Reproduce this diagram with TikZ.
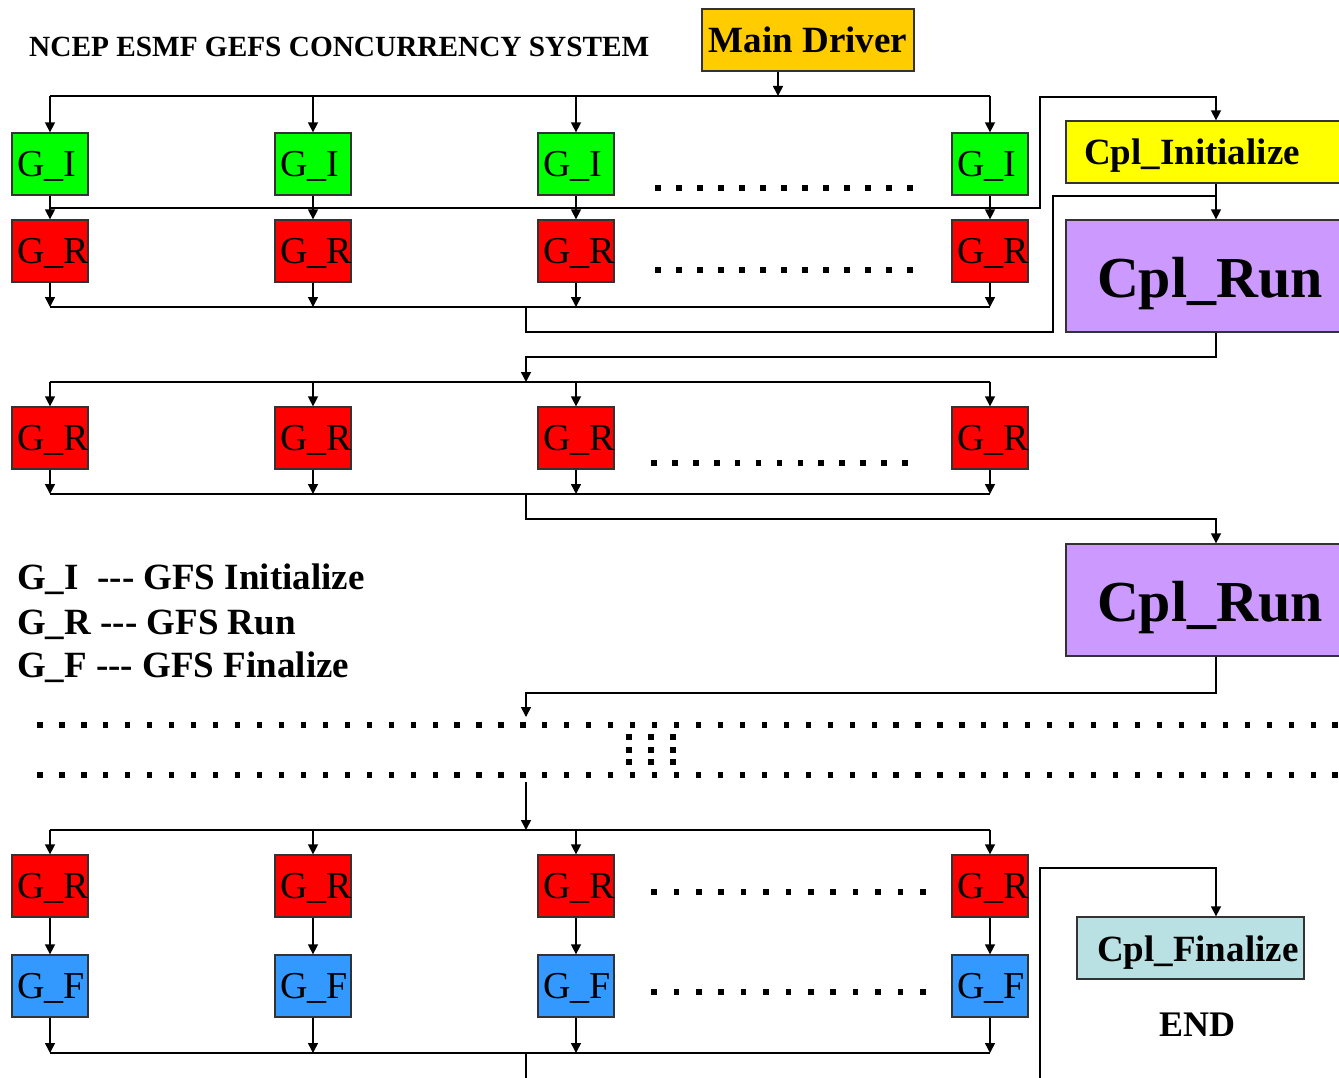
\documentclass[tikz,border=0pt]{standalone}
\usepackage{fontspec}
\newfontfamily\tnr{Liberation Serif}
\usetikzlibrary{arrows.meta}
\definecolor{mdcol}{RGB}{255,204,0}
\definecolor{gicol}{RGB}{0,255,0}
\definecolor{grcol}{RGB}{255,0,0}
\definecolor{gfcol}{RGB}{51,153,255}
\definecolor{cicol}{RGB}{255,255,0}
\definecolor{crcol}{RGB}{204,153,255}
\definecolor{cfcol}{RGB}{185,224,226}
\begin{document}
\begin{tikzpicture}[x=1pt,y=-1pt,
  ln/.style={line width=1.5pt, draw=black},
  arr/.style={ln, -{Triangle[width=10pt,length=10pt]}},
  bx/.style={draw=black!80, line width=1.3pt, inner ysep=0pt},
  gbox/.style={bx, minimum height=62pt, text width=66pt, inner xsep=5pt, align=left, text height=25pt, text depth=0pt, font=\tnr\fontsize{38}{40}\selectfont},
  gi/.style={gbox, fill=gicol},
  gr/.style={gbox, fill=grcol},
  gf/.style={gbox, fill=gfcol},
  cbox/.style={bx, align=left, text depth=0pt, font=\tnr\bfseries\fontsize{37}{40}\selectfont},
  legend/.style={anchor=base west, inner sep=0pt, font=\tnr\bfseries\fontsize{37}{40}\selectfont},
  dotsq/.style={fill=black}
]
\useasboundingbox (0,0) rectangle (1339,1078);
\fill[white] (0,0) rectangle (1339,1078);

% title and main driver
\node[anchor=base west, inner sep=0pt, font=\tnr\bfseries\fontsize{29.3}{31}\selectfont] (title) at (29,57) {NCEP ESMF GEFS CONCURRENCY SYSTEM};
\node[bx, fill=mdcol, minimum width=212pt, minimum height=62pt, inner sep=0pt, text height=26pt, text depth=0pt, font=\tnr\bfseries\fontsize{37}{40}\selectfont] (md) at (808,40) {Main Driver};

% helper coordinates
\coordinate (cx) at (1216,0);
\coordinate (mx) at (526,0);

% G boxes
\foreach \n/\x in {1/50,2/313,3/576,4/990}{
  \node[gi] (a\n) at (\x,164) {G\_I};
  \node[gr] (b\n) at (\x,251) {G\_R};
  \node[gr] (c\n) at (\x,438) {G\_R};
  \node[gr] (d\n) at (\x,886) {G\_R};
  \node[gf] (e\n) at (\x,986) {G\_F};
}

% coupler boxes
\node[cbox, fill=cicol, minimum height=62pt, text width=243pt, inner xsep=18pt, text height=25pt] (ci) at (1205.5,152) {Cpl\_Initialize};
\node[cbox, fill=crcol, minimum height=112pt, text width=217pt, inner xsep=31pt, text height=42pt, font=\tnr\bfseries\fontsize{58}{60}\selectfont] (cr1) at (1205.5,276) {Cpl\_Run};
\node[cbox, fill=crcol, minimum height=112pt, text width=217pt, inner xsep=31pt, text height=42pt, font=\tnr\bfseries\fontsize{58}{60}\selectfont] (cr2) at (1205.5,600) {Cpl\_Run};
\node[cbox, fill=cfcol, minimum height=62pt, text width=187pt, inner xsep=20pt, text height=26pt] (cf) at (1190.5,948) {Cpl\_Finalize};
\node[inner sep=0pt, font=\tnr\bfseries\fontsize{36}{40}\selectfont] (end) at (1197,1025) {END};

% legend
\node[legend] (l1) at (17,589) {G\_I\ \ --- GFS Initialize};
\node[legend] (l2) at (17,634) {G\_R --- GFS Run};
\node[legend] (l3) at (17,677) {G\_F --- GFS Finalize};

% bus junction coordinates
\coordinate (bus1) at (778,96);
\coordinate (bus2) at (0,208);
\coordinate (bus3) at (0,307);
\coordinate (bus4) at (0,382);
\coordinate (bus5) at (0,494);
\coordinate (bus6) at (0,830);
\coordinate (bus7) at (0,1053);

% main driver to first bus
\draw[arr] (md.south -| bus1) -- (bus1);
\draw[ln] (a1.north |- bus1) -- (a4.north |- bus1);
\foreach \n in {1,2,3,4}{
  \draw[arr] (a\n.north |- bus1) -- (a\n.north);
  \draw[arr] (a\n.south) -- (b\n.north);
  \draw[arr] (b\n.south) -- (b\n.south |- bus3);
  \draw[arr] (c\n.north |- bus4) -- (c\n.north);
  \draw[arr] (c\n.south) -- (c\n.south |- bus5);
  \draw[arr] (d\n.north |- bus6) -- (d\n.north);
  \draw[arr] (d\n.south) -- (e\n.north);
  \draw[arr] (e\n.south) -- (e\n.south |- bus7);
}

% G_I -> Cpl_Initialize
\draw[arr] (a1.south |- bus2) -- (1040,208) -- (1040,97) -- (1216,97) -- (ci.north -| cx);
% Cpl_Initialize -> Cpl_Run 1
\draw[arr] (ci.south -| cx) -- (cr1.north -| cx);
% G_R row 1 -> Cpl_Run 1
\draw[ln] (b1.south |- bus3) -- (b4.south |- bus3);
\draw[ln] (mx |- bus3) -- (526,332) -- (1053,332) -- (1053,196) -- (1216,196);
% Cpl_Run 1 -> G_R row 2
\draw[arr] (cr1.south -| cx) -- (1216,357) -- (526,357) -- (mx |- bus4);
\draw[ln] (c1.north |- bus4) -- (c4.north |- bus4);
% G_R row 2 -> Cpl_Run 2
\draw[ln] (c1.south |- bus5) -- (c4.south |- bus5);
\draw[arr] (mx |- bus5) -- (526,519) -- (1216,519) -- (cr2.north -| cx);
% Cpl_Run 2 -> dots
\coordinate (dtop) at (526,717);
\coordinate (dbot) at (526,782);
\draw[arr] (cr2.south -| cx) -- (1216,693) -- (526,693) -- (dtop);
\draw[arr] (dbot) -- (mx |- bus6);
\draw[ln] (d1.north |- bus6) -- (d4.north |- bus6);
% final bus
\draw[ln] (e1.south |- bus7) -- (e4.south |- bus7);
\draw[ln] (mx |- bus7) -- (526,1090);
% to Cpl_Finalize
\draw[arr] (1040,1090) -- (1040,868) -- (1216,868) -- (cf.north -| cx);

% dotted fillers between boxes
\foreach \k in {0,...,12}{
  \fill[dotsq] (658+21*\k-2.8,188-2.8) rectangle ++(5.6,5.6);
  \fill[dotsq] (658+21*\k-2.8,270-2.8) rectangle ++(5.6,5.6);
  \fill[dotsq] (654+20.9*\k-2.8,463-2.8) rectangle ++(5.6,5.6);
  \fill[dotsq] (654+22.4*\k-2.8,892-2.8) rectangle ++(5.6,5.6);
  \fill[dotsq] (654+22.4*\k-2.8,992-2.8) rectangle ++(5.6,5.6);
}
% long dotted rows
\foreach \k in {0,...,59}{
  \fill[dotsq] (40+21.95*\k-2.6,725-2.6) rectangle ++(5.2,5.2);
  \fill[dotsq] (40+21.95*\k-2.6,775-2.6) rectangle ++(5.2,5.2);
}
\foreach \xx in {629,651,673}{
  \foreach \yy in {737,750,762}{
    \fill[dotsq] (\xx-2.6,\yy-2.6) rectangle ++(5.2,5.2);
  }
}
\end{tikzpicture}
\end{document}
